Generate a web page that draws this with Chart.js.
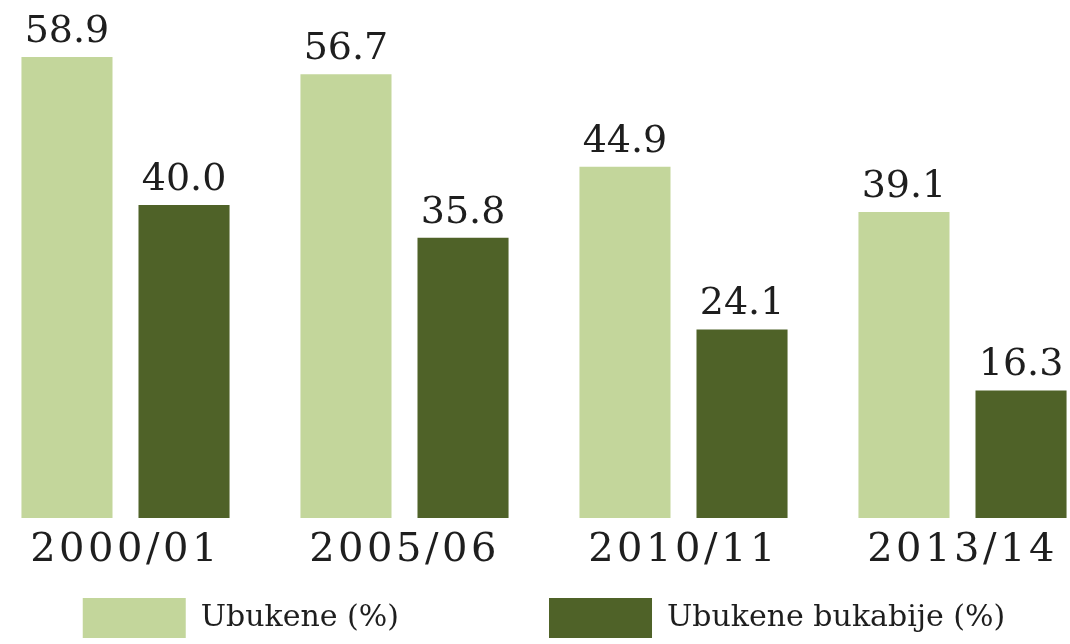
<!DOCTYPE html>
<html>
<head>
<meta charset="utf-8">
<script src="https://cdn.jsdelivr.net/npm/chart.js@4.4.0/dist/chart.umd.min.js"></script>
<style>
    html, body { margin: 0; padding: 0; overflow: hidden; background: #fff; }
    #wrap { position: relative; width: 1116px; height: 644px; margin-left: -14px; }
</style>
</head>
<body>
<div id="wrap"><canvas id="chart"></canvas></div>
<script>
// Data
const years = ['2000/01', '2005/06', '2010/11', '2013/14'];
const ubukene = [58.9, 56.7, 44.9, 39.1];
const ubukeneBukabije = [40.0, 35.8, 24.1, 16.3];
const seriesNames = ['Ubukene (%)', 'Ubukene bukabije (%)'];

const lightGreen = '#c3d69b';
const darkGreen = '#4f6228';
const textColor = '#1e1e1e';
const serif = "'DejaVu Serif', 'Liberation Serif', serif";

// Value labels above bars, then letter spacing for the x tick labels (drawn on top layer)
const valueLabels = {
    id: 'valueLabels',
    afterDatasetsDraw(chart) {
        const ctx = chart.ctx;
        ctx.save();
        ctx.font = '38px ' + serif;
        ctx.fillStyle = textColor;
        ctx.textAlign = 'center';
        ctx.textBaseline = 'alphabetic';
        chart.data.datasets.forEach((ds, i) => {
            chart.getDatasetMeta(i).data.forEach((bar, j) => {
                ctx.fillText(ds.data[j].toFixed(1), bar.x, bar.y - 15);
            });
        });
        ctx.restore();
        ctx.letterSpacing = '3.5px';
    },
    afterDraw(chart) {
        chart.ctx.letterSpacing = '0px';
    }
};

new Chart(document.getElementById('chart'), {
    type: 'bar',
    data: {
        labels: years,
        datasets: [
            { label: seriesNames[0], data: ubukene, backgroundColor: lightGreen },
            { label: seriesNames[1], data: ubukeneBukabije, backgroundColor: darkGreen }
        ]
    },
    options: {
        responsive: true,
        maintainAspectRatio: false,
        animation: false,
        categoryPercentage: 0.839,
        barPercentage: 0.778,
        layout: { padding: { top: 0, bottom: -4 } },
        scales: {
            x: {
                grid: { display: false },
                border: { display: false },
                afterFit(scale) { scale.height = 64; },
                ticks: {
                    z: 1,
                    color: textColor,
                    padding: 1,
                    font: { family: serif, size: 40 }
                }
            },
            y: {
                display: false,
                min: 0,
                max: 66.2
            }
        },
        plugins: {
            tooltip: { enabled: false },
            legend: {
                position: 'bottom',
                onClick: null,
                labels: {
                    boxWidth: 103,
                    boxHeight: 40,
                    padding: 16,
                    color: textColor,
                    font: { family: serif, size: 30 },
                    // blank spacer item keeps the wide gap between the two entries
                    generateLabels(chart) {
                        const items = Chart.defaults.plugins.legend.labels.generateLabels(chart);
                        items.splice(1, 0, {
                            text: '',
                            fillStyle: 'rgba(0,0,0,0)',
                            strokeStyle: 'rgba(0,0,0,0)',
                            lineWidth: 0,
                            hidden: false
                        });
                        return items;
                    }
                }
            }
        }
    },
    plugins: [valueLabels]
});
</script>
</body>
</html>
